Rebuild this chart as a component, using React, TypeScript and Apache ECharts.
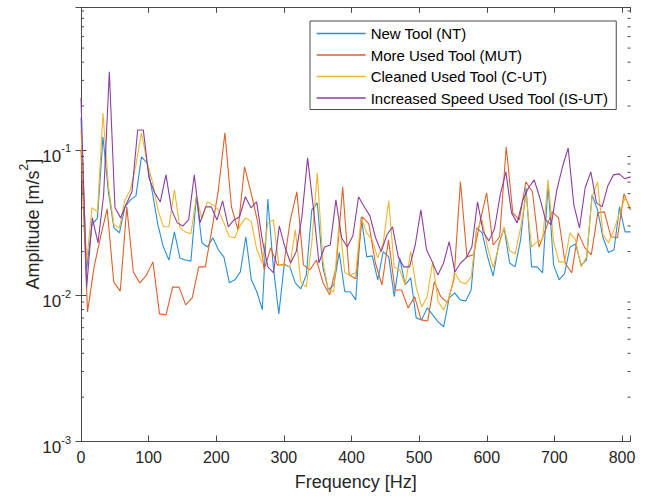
import { useEffect, useRef } from "react";
import * as echarts from "echarts";

// ---- axis ranges ----
const X_MAX = 812.5;
const Y_MIN = 0.001;
const Y_MAX = 0.953;
const X_TICKS = [0, 100, 200, 300, 400, 500, 600, 700, 800];

// ---- frequency resolution of each record (Hz per bin) ----
const NT_STEP = 8.125;
const MUT_STEP = 9.673;
const CUT_STEP = 8.125;
const ISUT_STEP = 8.376;

// ---- series names ----
const NAMES = [
  "New Tool (NT)",
  "More Used Tool (MUT)",
  "Cleaned Used Tool (C-UT)",
  "Increased Speed Used Tool (IS-UT)",
];

// ---- amplitudes [m/s^2] ----
const NT = [
  0.166, 0.015, 0.0305, 0.0341, 0.123, 0.0507, 0.0291, 0.0269, 0.0406, 0.0453,
  0.0483, 0.0895, 0.0815, 0.0507, 0.0305, 0.0215, 0.0175, 0.0273, 0.0181, 0.0175,
  0.0172, 0.0476, 0.023, 0.0215, 0.0249, 0.0206, 0.0184, 0.0122, 0.0128, 0.0145,
  0.0253, 0.0128, 0.0106, 0.00796, 0.046, 0.0157, 0.00747, 0.0164, 0.0157, 0.0122,
  0.0111, 0.0138, 0.0387, 0.0432, 0.0157, 0.0109, 0.0118, 0.0197, 0.0106, 0.0106,
  0.00932, 0.0347, 0.0184, 0.0187, 0.0128, 0.02, 0.0184, 0.0098, 0.0181, 0.0118,
  0.0132, 0.00701, 0.00679, 0.00821, 0.00735, 0.00658, 0.00609, 0.00963, 0.0104, 0.00932,
  0.00917, 0.0109, 0.0291, 0.0269, 0.0184, 0.0136, 0.0222, 0.0291, 0.0167, 0.0157,
  0.0241, 0.0549, 0.0157, 0.0157, 0.0143, 0.0575, 0.0162, 0.0128, 0.0141, 0.0215,
  0.0226, 0.0162, 0.0175, 0.0491, 0.0387, 0.0249, 0.0197, 0.0206, 0.0406, 0.0273,
  0.0273,
];

const MUT = [
  0.1, 0.00771, 0.0157, 0.0253, 0.0393, 0.0124, 0.0107, 0.0406, 0.0145, 0.0122,
  0.0138, 0.017, 0.00747, 0.00735, 0.0114, 0.0114, 0.00861, 0.00963, 0.0157, 0.0157,
  0.0282, 0.0531, 0.131, 0.0406, 0.0282, 0.0765, 0.0507, 0.032, 0.015, 0.0213,
  0.0162, 0.0162, 0.033, 0.0515, 0.0162, 0.015, 0.0175, 0.0122, 0.0101, 0.0157,
  0.0557, 0.0138, 0.013, 0.0347, 0.031, 0.0167, 0.0118, 0.0241, 0.0109, 0.0109,
  0.00821, 0.0098, 0.00679, 0.00668, 0.0124, 0.0098, 0.00889, 0.0128, 0.0603, 0.0184,
  0.019, 0.032, 0.0507, 0.0222, 0.0253, 0.105, 0.0369, 0.033, 0.0603, 0.0515,
  0.0215, 0.0282, 0.0375, 0.0341, 0.0167, 0.0143, 0.0269, 0.0213, 0.019, 0.0369,
  0.0375, 0.0253, 0.0249, 0.0499, 0.0387,
];

const CUT = [
  0.137, 0.0167, 0.04, 0.0375, 0.179, 0.0557, 0.0305, 0.0291, 0.0453, 0.0531,
  0.0789, 0.131, 0.0828, 0.0603, 0.0387, 0.0296, 0.0296, 0.0531, 0.0291, 0.0273,
  0.0265, 0.0483, 0.0336, 0.0439, 0.0419, 0.0387, 0.0315, 0.0253, 0.0249, 0.0305,
  0.0341, 0.032, 0.0206, 0.0167, 0.0315, 0.033, 0.0162, 0.0162, 0.0157, 0.0282,
  0.0124, 0.0114, 0.023, 0.0695, 0.0175, 0.0109, 0.0106, 0.033, 0.0143, 0.0138,
  0.0143, 0.0341, 0.0269, 0.0241, 0.0181, 0.023, 0.0446, 0.0157, 0.015, 0.0118,
  0.02, 0.0114, 0.00834, 0.0098, 0.017, 0.00903, 0.00796, 0.00963, 0.0143, 0.0124,
  0.012, 0.0134, 0.0282, 0.033, 0.0213, 0.0155, 0.0215, 0.0296, 0.0203, 0.0193,
  0.0291, 0.0491, 0.0215, 0.0234, 0.0241, 0.0622, 0.0234, 0.017, 0.017, 0.0269,
  0.0241, 0.0157, 0.0184, 0.0476, 0.0603, 0.0261, 0.023, 0.0282, 0.0369, 0.0467,
  0.04,
];

const ISUT = [
  0.227, 0.0114, 0.0341, 0.023, 0.0491, 0.344, 0.04, 0.0341, 0.0425, 0.0515,
  0.137, 0.137, 0.0642, 0.0507, 0.0439, 0.0673, 0.0387, 0.0315, 0.03, 0.033,
  0.0673, 0.0315, 0.0406, 0.0406, 0.033, 0.0446, 0.0296, 0.033, 0.0347, 0.0476,
  0.04, 0.0439, 0.0241, 0.0157, 0.0143, 0.03, 0.0215, 0.0167, 0.02, 0.0347,
  0.0881, 0.0406, 0.0167, 0.0215, 0.0222, 0.0453, 0.0249, 0.0215, 0.0257, 0.0476,
  0.0406, 0.0352, 0.0249, 0.02, 0.0261, 0.0296, 0.0184, 0.0157, 0.0157, 0.0222,
  0.0387, 0.0206, 0.017, 0.0138, 0.0167, 0.0234, 0.0145, 0.0167, 0.0181, 0.0215,
  0.0439, 0.0273, 0.0237, 0.0287, 0.0491, 0.0706, 0.0369, 0.0315, 0.0453, 0.0549,
  0.0622, 0.0467, 0.033, 0.0305, 0.0531, 0.0765, 0.103, 0.0419, 0.0291, 0.0549,
  0.0706, 0.0432, 0.0406, 0.0566, 0.0673, 0.0684, 0.0632, 0.0652,
];

const COLORS = ["#2a8fd4", "#e0602a", "#f0b52e", "#8c3f9e"];

const FONT = "'Liberation Sans', Arial, Helvetica, sans-serif";
const AXIS_COLOR = "#4a4a4a";
const TEXT_COLOR = "#262626";

function toPairs(values: number[], step: number): [number, number][] {
  return values.map((v, i) => [Math.round(i * step * 1000) / 1000, v]);
}

export default function App() {
  const ref = useRef<HTMLDivElement>(null);

  useEffect(() => {
    document.body.style.margin = "0";
    if (!ref.current) return;
    const chart = echarts.init(ref.current, undefined, { renderer: "svg" });

    const yLabelFormatter = (v: number) => {
      const l = Math.log10(v);
      const e = Math.round(l);
      if (Math.abs(l - e) > 1e-6) return "";
      return "{b|10}{s|" + e + "}";
    };

    const xLabelFormatter = (v: number) =>
      X_TICKS.indexOf(Math.round(v * 1000) / 1000) >= 0 ? String(v) : "";

    const commonX = {
      type: "value" as const,
      min: 0,
      max: X_MAX,
      interval: 100,
      splitLine: { show: false },
      axisLine: { show: true, lineStyle: { color: AXIS_COLOR, width: 1 } },
      axisTick: { show: true, inside: true, length: 5.5, lineStyle: { color: AXIS_COLOR } },
    };
    const commonY = {
      type: "log" as const,
      logBase: 10,
      min: Y_MIN,
      max: Y_MAX,
      splitLine: { show: false },
      axisLine: { show: true, lineStyle: { color: AXIS_COLOR, width: 1 } },
      axisTick: { show: true, inside: true, length: 5.5, lineStyle: { color: AXIS_COLOR } },
    };

    const data = [
      toPairs(NT, NT_STEP),
      toPairs(MUT, MUT_STEP),
      toPairs(CUT, CUT_STEP),
      toPairs(ISUT, ISUT_STEP),
    ];

    chart.setOption({
      animation: false,
      textStyle: { fontFamily: FONT },
      grid: { left: 81, right: 15.5, top: 7.3, bottom: 54.5, containLabel: false },
      xAxis: [
        {
          ...commonX,
          position: "bottom",
          axisLabel: {
            show: true,
            fontSize: 16,
            color: TEXT_COLOR,
            fontFamily: FONT,
            margin: 8,
            formatter: xLabelFormatter,
          },
          name: "Frequency [Hz]",
          nameLocation: "middle",
          nameGap: 32,
          nameMoveOverlap: false,
          nameTextStyle: { fontSize: 18, color: TEXT_COLOR, fontFamily: FONT },
        },
        {
          ...commonX,
          position: "top",
          axisLabel: { show: false },
        },
      ],
      yAxis: [
        {
          ...commonY,
          position: "left",
          axisLabel: {
            show: true,
            color: TEXT_COLOR,
            fontFamily: FONT,
            margin: 10,
            padding: [8, 0, 0, 0],
            formatter: yLabelFormatter,
            rich: {
              b: { fontSize: 17, lineHeight: 22, verticalAlign: "bottom", color: TEXT_COLOR, fontFamily: FONT },
              s: { fontSize: 11, lineHeight: 11, verticalAlign: "top", color: TEXT_COLOR, fontFamily: FONT },
            },
          },
          name: "{t|Amplitude [m/s}{s|2}{t|]}",
          nameLocation: "middle",
          nameRotate: 90,
          nameGap: 39,
          nameMoveOverlap: false,
          nameTextStyle: {
            color: TEXT_COLOR,
            fontFamily: FONT,
            rich: {
              t: { fontSize: 18, lineHeight: 24, verticalAlign: "bottom", color: TEXT_COLOR, fontFamily: FONT },
              s: { fontSize: 12, lineHeight: 12, verticalAlign: "top", color: TEXT_COLOR, fontFamily: FONT },
            },
          },
        },
        {
          ...commonY,
          position: "right",
          axisLabel: { show: false },
        },
      ],
      legend: {
        show: true,
        orient: "vertical",
        left: 310,
        top: 21,
        padding: [5, 8, 4, 6],
        itemWidth: 49,
        itemHeight: 14,
        itemGap: 6.5,
        backgroundColor: "#ffffff",
        borderColor: AXIS_COLOR,
        borderWidth: 1,
        borderRadius: 0,
        itemStyle: { opacity: 0 },
        lineStyle: { width: 1.3 },
        textStyle: { fontSize: 15, color: "#000000", fontFamily: FONT },
        data: NAMES,
      },
      series: NAMES.map((name, k) => ({
        name,
        type: "line",
        xAxisIndex: 0,
        yAxisIndex: 0,
        data: data[k],
        symbol: "none",
        showSymbol: false,
        color: COLORS[k],
        lineStyle: { color: COLORS[k], width: 1.1 },
        z: 2 + k,
      })),
    });

    // MATLAB-style minor ticks on the log axes (2..9 of each decade), positioned through the axis scale
    const minorValues: number[] = [];
    [0.001, 0.01, 0.1].forEach((d) => {
      for (let k = 2; k <= 9; k++) {
        const v = d * k;
        if (v < Y_MAX) minorValues.push(v);
      }
    });
    const xl = chart.convertToPixel({ xAxisIndex: 0 }, 0) as number;
    const xr = chart.convertToPixel({ xAxisIndex: 0 }, X_MAX) as number;
    const els: any[] = [];
    minorValues.forEach((v) => {
      const y = chart.convertToPixel({ yAxisIndex: 0 }, v) as number;
      els.push({
        type: "line",
        silent: true,
        shape: { x1: xl, y1: y, x2: xl + 3, y2: y },
        style: { stroke: AXIS_COLOR, lineWidth: 1 },
        z: 10,
      });
      els.push({
        type: "line",
        silent: true,
        shape: { x1: xr - 3, y1: y, x2: xr, y2: y },
        style: { stroke: AXIS_COLOR, lineWidth: 1 },
        z: 10,
      });
    });
    chart.setOption({ graphic: els });

    return () => chart.dispose();
  }, []);

  return <div ref={ref} style={{ width: 646, height: 496 }} />;
}
